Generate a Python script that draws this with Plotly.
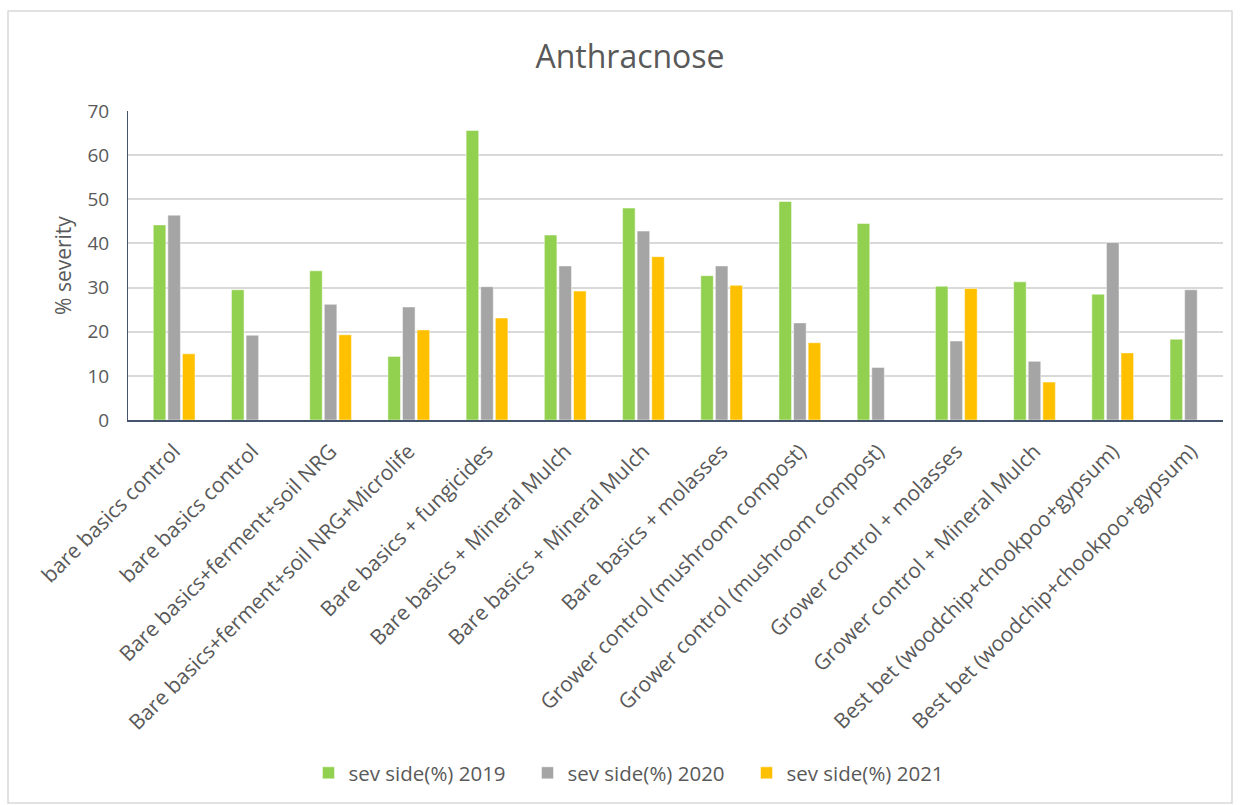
import plotly.graph_objects as go

# Treatment names (some treatments appear twice as separate plots)
treatments = [
    "bare basics control",
    "bare basics control",
    "Bare basics+ferment+soil NRG",
    "Bare basics+ferment+soil NRG+Microlife",
    "Bare basics + fungicides",
    "Bare basics + Mineral Mulch",
    "Bare basics + Mineral Mulch",
    "Bare basics + molasses",
    "Grower control (mushroom compost)",
    "Grower control (mushroom compost)",
    "Grower control + molasses",
    "Grower control + Mineral Mulch",
    "Best bet (woodchip+chookpoo+gypsum)",
    "Best bet (woodchip+chookpoo+gypsum)",
]

sev_2019 = [44.2, 29.5, 33.8, 14.4, 65.6, 41.9, 48.0, 32.7, 49.5, 44.5, 30.3, 31.3, 28.5, 18.3]
sev_2020 = [46.4, 19.2, 26.2, 25.6, 30.2, 34.9, 42.8, 34.9, 22.0, 11.9, 17.9, 13.3, 40.2, 29.5]
sev_2021 = [15.0, None, 19.3, 20.4, 23.1, 29.2, 37.0, 30.5, 17.5, None, 29.8, 8.6, 15.2, None]

series_names = ["sev side(%) 2019", "sev side(%) 2020", "sev side(%) 2021"]
series_colors = ["#92D050", "#A5A5A5", "#FFC000"]

y_ticks = [0, 10, 20, 30, 40, 50, 60, 70]

positions = list(range(len(treatments)))

fig = go.Figure()
for name, vals, color in zip(series_names, [sev_2019, sev_2020, sev_2021], series_colors):
    fig.add_trace(go.Bar(
        x=positions,
        y=vals,
        name=name,
        marker=dict(color=color, line=dict(color="rgba(255,255,255,0.6)", width=0.8)),
    ))

font_family = "Open Sans, Noto Sans, DejaVu Sans, sans-serif"
text_color = "#595959"

# plot area in pixels: left 128, right 1223, top 111, bottom 420
PW, PH = 1095, 309

fig.update_layout(
    width=1242,
    height=805,
    paper_bgcolor="white",
    plot_bgcolor="white",
    barmode="group",
    bargap=0.44,
    bargroupgap=0.14,
    margin=dict(l=128, r=19, t=111, b=385),
    title=dict(
        text="Anthracnose",
        xref="paper",
        x=(630 - 128) / PW,
        xanchor="center",
        y=1 - 57 / 805,
        yanchor="middle",
        font=dict(family=font_family, size=32, color=text_color),
    ),
    font=dict(family=font_family, color=text_color),
    legend=dict(
        orientation="h",
        x=(637 - 128) / PW,
        xanchor="center",
        y=-(773 - 420) / PH,
        yanchor="middle",
        font=dict(size=20.5, color=text_color),
        itemwidth=30,
        entrywidth=174,
        entrywidthmode="pixels",
        traceorder="normal",
    ),
    showlegend=True,
)

fig.update_xaxes(
    tickmode="array",
    tickvals=positions,
    ticktext=treatments,
    tickangle=-45,
    tickfont=dict(size=21, color=text_color),
    range=[-0.59, 13.41],
    showgrid=False,
    showline=True,
    linecolor="#44546A",
    linewidth=1.5,
    ticks="outside",
    ticklen=9,
    tickcolor="rgba(0,0,0,0)",
    zeroline=False,
)

fig.update_yaxes(
    range=[0, 70],
    tickvals=y_ticks,
    tickfont=dict(size=19, color=text_color),
    ticklabelstandoff=14,
    title=dict(text="% severity", font=dict(size=21, color=text_color), standoff=10),
    showgrid=True,
    gridcolor="#D9D9D9",
    gridwidth=1.5,
    showline=True,
    linecolor="#44546A",
    linewidth=1,
    zeroline=False,
    ticks="",
)

# Light outer frame around the chart
fig.add_shape(
    type="rect", xref="paper", yref="paper",
    x0=(8 - 128) / PW, x1=(1232 - 128) / PW,
    y0=-(803 - 420) / PH, y1=1 + (111 - 11) / PH,
    line=dict(color="#D9D9D9", width=1.5), fillcolor="rgba(0,0,0,0)",
)

fig.write_html("out.html")
